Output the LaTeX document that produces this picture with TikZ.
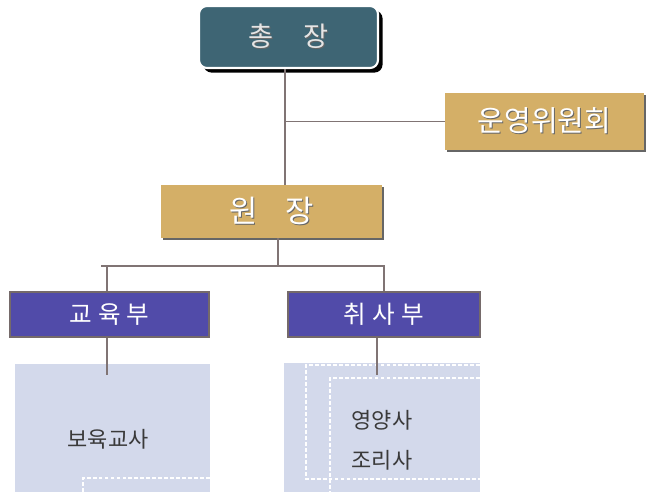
\documentclass[tikz,border=0pt]{standalone}
\usepackage{fontspec}
\setmainfont{Noto Sans CJK KR}
\usetikzlibrary{shadows,positioning}
\definecolor{chieffill}{HTML}{3E6574}
\definecolor{tanfill}{HTML}{D4AF67}
\definecolor{deptfill}{HTML}{514BA9}
\definecolor{deptrim}{HTML}{756A6A}
\definecolor{panelfill}{HTML}{D3D9EB}
\definecolor{wirecol}{HTML}{807474}
\definecolor{ink}{HTML}{3A3A3A}
% white lettering with a dark offset copy behind it
\newcommand{\emboss}[1]{\makebox[0pt][l]{\hspace{0.6pt}\raisebox{-0.6pt}{\textcolor{black!60}{#1}}}#1}
\tikzset{
  chief/.style={rectangle,rounded corners=4.5pt,fill=chieffill,draw=white,line width=1.2pt,
    minimum width=3.58cm,minimum height=1.24cm,text=white!90!black,
    drop shadow={shadow xshift=2.6pt,shadow yshift=-2.6pt,fill=black,opacity=1}},
  plaque/.style={rectangle,fill=tanfill,text=white,
    drop shadow={shadow xshift=1.4pt,shadow yshift=-1.4pt,fill=black!60,opacity=1}},
  dept/.style={rectangle,fill=deptfill,draw=deptrim,line width=1.2pt,text=white,
    minimum height=0.9cm,font=\fontsize{14}{16}\selectfont},
  panel/.style={rectangle,fill=panelfill,inner sep=0pt},
  wire/.style={draw=wirecol,line width=0.9pt},
  dots/.style={draw=white,line width=1.6pt,dash pattern=on 2.2pt off 1.2pt},
  staff/.style={text=ink,font=\fontsize{12.5}{15}\selectfont},
}
\begin{document}
\begin{tikzpicture}[x=0.02cm,y=-0.02cm]
  \useasboundingbox (0,0) rectangle (646,492);
  % boxes
  \node[chief,font=\fontsize{15.5}{18}\selectfont] (chief) at (288.5,37) {\emboss{총\hspace{1.1em}장}};
  \node[plaque,minimum width=3.98cm,minimum height=1.14cm,font=\fontsize{16.5}{19}\selectfont]
    (board) at (544.5,121.5) {\emboss{운영위원회}};
  \node[plaque,minimum width=4.42cm,minimum height=1.06cm,font=\fontsize{17.5}{20}\selectfont]
    (head) at (271.5,211.5) {\emboss{원\hspace{0.9em}장}};
  \node[dept,minimum width=3.98cm] (edu) at (109.5,314.5) {교\hspace{.25em}육\hspace{.25em}부};
  \node[dept,minimum width=3.84cm] (kitchen) at (384,314.5) {취\hspace{.25em}사\hspace{.25em}부};
  % staff panels
  \node[panel,minimum width=3.9cm,minimum height=2.56cm] (eduarea) at (112.5,428) {};
  \node[panel,minimum width=3.92cm,minimum height=2.58cm] (kitchenarea) at (382,427.5) {};
  \draw[dots] (210,478) -| (83,492);
  \draw[dots] (480,365) -| (306,479) -- (480,479);
  \draw[dots] (480,378) -| (330,492);
  \node[staff] (teacher) at (108,439) {보육교사};
  \node[staff] (dietitian) at (382,420) {영양사};
  \node[staff] (cook) at (382,460) {조리사};
  % connectors
  \coordinate (trunk) at (285,121.5);
  \draw[wire] (chief.south -| trunk) -- (head.north -| trunk);
  \draw[wire] (trunk) -- (board.west);
  \coordinate (bus) at (278,266);
  \coordinate (busend) at (101,266);
  \coordinate (edudrop) at (107,266);
  \draw[wire] (head.south -| bus) -- (bus);
  \draw[wire] (busend) -- (bus) -| (kitchen.north);
  \draw[wire] (edudrop) -- (edu.north -| edudrop);
  \coordinate (edutail) at (107,375);
  \coordinate (kitchentail) at (377,375);
  \draw[wire] (edu.south -| edutail) -- (edutail);
  \draw[wire] (kitchen.south -| kitchentail) -- (kitchentail);
\end{tikzpicture}
\end{document}
